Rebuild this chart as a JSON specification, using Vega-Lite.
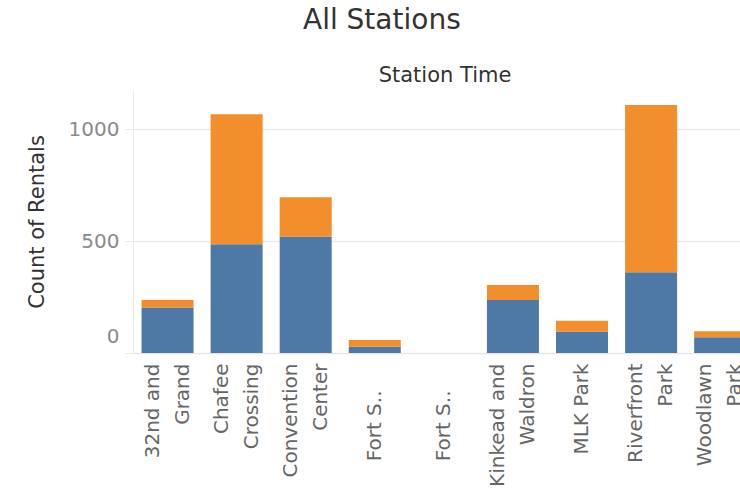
{
  "$schema": "https://vega.github.io/schema/vega-lite/v6.json",
  "width": 621.7,
  "height": 263,
  "autosize": {"type": "none"},
  "padding": {"left": 133, "top": 90, "right": -14.7, "bottom": 146},
  "background": "white",
  "title": {
    "text": "All Stations",
    "anchor": "middle",
    "frame": "group",
    "dx": -62,
    "dy": -29,
    "offset": 0,
    "font": "DejaVu Sans",
    "fontSize": 28,
    "fontWeight": "normal",
    "color": "#333333"
  },
  "data": {
    "values": [
      {"station": "32nd and Grand", "group": "Group 1", "count": 204},
      {"station": "32nd and Grand", "group": "Group 2", "count": 33},
      {"station": "Chafee Crossing", "group": "Group 1", "count": 486},
      {"station": "Chafee Crossing", "group": "Group 2", "count": 582},
      {"station": "Convention Center", "group": "Group 1", "count": 520},
      {"station": "Convention Center", "group": "Group 2", "count": 176},
      {"station": "Fort S.. (1)", "group": "Group 1", "count": 28},
      {"station": "Fort S.. (1)", "group": "Group 2", "count": 30},
      {"station": "Kinkead and Waldron", "group": "Group 1", "count": 237},
      {"station": "Kinkead and Waldron", "group": "Group 2", "count": 67},
      {"station": "MLK Park", "group": "Group 1", "count": 95},
      {"station": "MLK Park", "group": "Group 2", "count": 49},
      {"station": "Riverfront Park", "group": "Group 1", "count": 361},
      {"station": "Riverfront Park", "group": "Group 2", "count": 748},
      {"station": "Woodlawn Park", "group": "Group 1", "count": 70},
      {"station": "Woodlawn Park", "group": "Group 2", "count": 27}
    ]
  },
  "mark": {"type": "bar"},
  "encoding": {
    "x": {
      "field": "station",
      "type": "nominal",
      "scale": {
        "domain": ["32nd and Grand", "Chafee Crossing", "Convention Center", "Fort S.. (1)", "Fort S.. (2)", "Kinkead and Waldron", "MLK Park", "Riverfront Park", "Woodlawn Park"],
        "paddingInner": 0.247,
        "paddingOuter": 0.1235
      },
      "axis": {
        "title": "Station Time",
        "titleFont": "DejaVu Sans",
        "titleFontSize": 21,
        "titleFontWeight": "normal",
        "titleColor": "#333333",
        "titleX": 311.5,
        "titleY": -278,
        "titleAlign": "center",
        "titleBaseline": "middle",
        "labelAngle": 270,
        "labelAlign": "right",
        "labelBaseline": "middle",
        "labelFont": "DejaVu Sans",
        "labelFontSize": 20,
        "labelColor": "#666666",
        "labelLineHeight": 30,
        "labelPadding": {"condition": {"test": "indexof(datum.value, 'Fort S..') == 0", "value": 37}, "value": 10},
        "labelOffset": {"condition": {"test": "indexof(datum.value, 'Fort S..') == 0 || datum.value == 'MLK Park'", "value": 0}, "value": -15},
        "labelOverlap": false,
        "labelExpr": "datum.value == '32nd and Grand' ? ['32nd and', 'Grand'] : datum.value == 'Chafee Crossing' ? ['Chafee', 'Crossing'] : datum.value == 'Convention Center' ? ['Convention', 'Center'] : datum.value == 'Kinkead and Waldron' ? ['Kinkead and', 'Waldron'] : datum.value == 'Riverfront Park' ? ['Riverfront', 'Park'] : datum.value == 'Woodlawn Park' ? ['Woodlawn', 'Park'] : indexof(datum.value, 'Fort S..') == 0 ? 'Fort S..' : datum.label",
        "ticks": false,
        "domain": true,
        "domainColor": "#e6e6e6",
        "grid": false
      }
    },
    "y": {
      "field": "count",
      "type": "quantitative",
      "aggregate": "sum",
      "stack": "zero",
      "scale": {"domain": [0, 1176], "nice": false, "zero": true},
      "axis": {
        "title": "Count of Rentals",
        "titleFont": "DejaVu Sans",
        "titleFontSize": 21,
        "titleFontWeight": "normal",
        "titleColor": "#333333",
        "titleX": -96,
        "titleY": 131.5,
        "titleAngle": 270,
        "titleAlign": "center",
        "titleBaseline": "middle",
        "values": [0, 500, 1000],
        "format": "d",
        "labelFont": "DejaVu Sans",
        "labelFontSize": 20,
        "labelColor": "#8a8a8a",
        "labelPadding": 5,
        "labelFlush": true,
        "labelFlushOffset": -7,
        "ticks": true,
        "tickSize": 9,
        "tickColor": "#ececec",
        "domain": true,
        "domainColor": "#ececec",
        "grid": true,
        "gridColor": "#ececec",
        "gridWidth": 1.5
      }
    },
    "color": {
      "field": "group",
      "type": "nominal",
      "scale": {"domain": ["Group 1", "Group 2"], "range": ["#4e79a7", "#f28e2b"]},
      "legend": null
    },
    "order": {"field": "group", "type": "nominal", "sort": "ascending"}
  },
  "config": {
    "view": {"stroke": null},
    "font": "DejaVu Sans"
  }
}
